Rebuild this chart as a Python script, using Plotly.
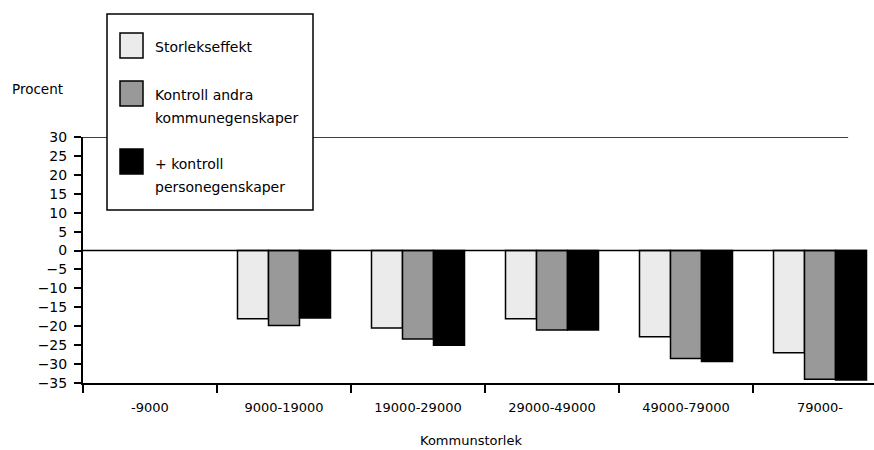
import plotly.graph_objects as go

categories = ["-9000", "9000-19000", "19000-29000", "29000-49000", "49000-79000", "79000-"]
storlekseffekt = [None, -18.0, -20.5, -18.0, -22.8, -27.0]
kontroll_kommun = [None, -19.8, -23.4, -21.0, -28.5, -34.0]
kontroll_person = [None, -17.8, -25.0, -21.0, -29.3, -34.2]
series_names = ["Storlekseffekt", "Kontroll andra kommunegenskaper", "+ kontroll personegenskaper"]
colors = ["#ebebeb", "#999999", "#000000"]

FONT = "DejaVu Sans"
W, H = 874, 450
L, R, T, B = 83, 0, 137, 67
PW, PH = W - L - R, H - T - B

def px(xp):
    return (xp - L) / PW

def py(yp):
    return (H - B - yp) / PH

fig = go.Figure()
for name, vals, col in zip(series_names, [storlekseffekt, kontroll_kommun, kontroll_person], colors):
    fig.add_trace(go.Bar(x=categories, y=vals, name=name, marker=dict(color=col, line=dict(color="#000", width=1.5)),
                         showlegend=False))

shapes = []
# top line at 30 and zero line
shapes.append(dict(type="line", xref="x", yref="y", x0=-0.5, x1=5.21, y0=30, y1=30, line=dict(color="#000", width=1.5)))
shapes.append(dict(type="line", xref="x", yref="y", x0=-0.5, x1=5.35, y0=0, y1=0, line=dict(color="#000", width=1.5)))
# legend box
shapes.append(dict(type="rect", xref="paper", yref="paper", x0=px(107), x1=px(313), y0=py(210), y1=py(14),
                   line=dict(color="#000", width=1.5), fillcolor="white", layer="above"))
sw = [(33, 58), (81, 106), (149, 174)]
for (a, b), col in zip(sw, colors):
    shapes.append(dict(type="rect", xref="paper", yref="paper", x0=px(120), x1=px(143), y0=py(b), y1=py(a),
                       line=dict(color="#000", width=1.5), fillcolor=col, layer="above"))

ann = []
leg_lines = [("Storlekseffekt", 47), ("Kontroll andra", 95), ("kommunegenskaper", 118),
             ("+ kontroll", 164), ("personegenskaper", 187)]
for t, y in leg_lines:
    ann.append(dict(text=t, xref="paper", yref="paper", x=px(153), y=py(y), xanchor="left", yanchor="middle",
                    showarrow=False, font=dict(family=FONT, size=14, color="#000")))
ann.append(dict(text="Procent", xref="paper", yref="paper", x=px(10), y=py(89), xanchor="left", yanchor="middle",
                showarrow=False, font=dict(family=FONT, size=13.5, color="#000")))
ann.append(dict(text="Kommunstorlek", xref="paper", yref="paper", x=px(471), y=py(440), xanchor="center", yanchor="middle",
                showarrow=False, font=dict(family=FONT, size=13, color="#000")))

fig.update_layout(
    width=W, height=H, margin=dict(l=L, r=R, t=T, b=B),
    paper_bgcolor="white", plot_bgcolor="white",
    barmode="group", bargap=0.306, bargroupgap=0,
    shapes=shapes, annotations=ann, showlegend=False,
    font=dict(family=FONT, size=13, color="#000"),
)
fig.update_xaxes(type="category", range=[-0.5, 5.403], tickson="boundaries", ticks="outside", ticklen=8,
                 tickwidth=1.5, tickcolor="#000", showline=True, linewidth=2, linecolor="#000", showgrid=False,
                 zeroline=False, ticklabelstandoff=11, tickfont=dict(family=FONT, size=13, color="#000"))
fig.update_yaxes(range=[-35, 30], dtick=5, tick0=0, ticks="outside", ticklen=7, tickwidth=1.5, tickcolor="#000",
                 showline=True, linewidth=2, linecolor="#000", showgrid=False, zeroline=False,
                 ticklabelstandoff=4, tickfont=dict(family=FONT, size=14, color="#000"))

fig.write_html("out.html")
